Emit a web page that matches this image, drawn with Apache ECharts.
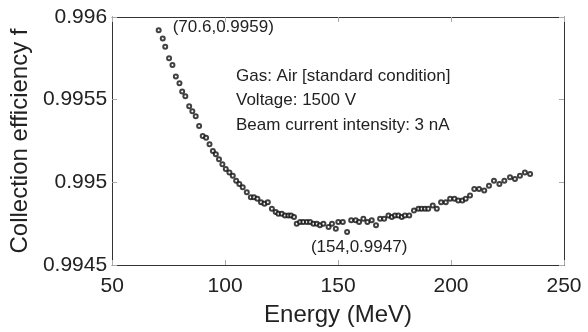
<!DOCTYPE html>
<html>
<head>
<meta charset="utf-8">
<script src="https://cdn.jsdelivr.net/npm/echarts@6/dist/echarts.min.js"></script>
<style>
html,body{margin:0;padding:0;background:#fff;}
#chart{width:588px;height:332px;}
</style>
</head>
<body>
<div id="chart"></div>
<script>
const energy = [70.6,72.4,73.5,75.2,76.7,78.2,79.8,81.0,82.4,84.1,85.5,87.0,88.5,90.1,91.6,93.1,94.6,95.9,97.3,98.8,100.3,101.9,103.4,104.9,106.3,107.8,109.6,111.4,112.8,114.3,115.9,117.4,118.9,120.7,122.4,123.6,125.1,126.5,128.0,129.2,130.5,131.7,133.2,134.6,136.2,137.6,139.1,140.6,142.0,143.5,145.8,147.3,149.0,150.1,152.1,154.0,155.8,157.8,159.3,161.2,163.0,164.9,166.8,168.6,170.4,172.3,173.8,175.2,176.7,178.2,179.6,181.5,183.6,185.6,187.0,188.5,189.9,191.9,193.7,195.6,197.7,199.6,201.5,203.2,205.0,206.5,208.4,210.3,212.4,214.7,216.8,219.0,221.4,223.6,226.1,228.3,230.5,232.7,235.0];
const efficiency = [0.99592,0.99587,0.99582,0.99575,0.99571,0.99564,0.99560,0.99555,0.99552,0.99546,0.99543,0.99540,0.99534,0.99528,0.99527,0.99523,0.99519,0.99517,0.99514,0.99511,0.99508,0.99506,0.99504,0.99501,0.99499,0.99497,0.99494,0.99491,0.99491,0.99490,0.99488,0.99487,0.99488,0.99484,0.99482,0.99481,0.99481,0.99480,0.99480,0.99480,0.99479,0.99475,0.99476,0.99476,0.99476,0.99476,0.99475,0.99475,0.99474,0.99475,0.99473,0.99475,0.99472,0.99476,0.99476,0.99470,0.99477,0.99477,0.99476,0.99478,0.99476,0.99477,0.99474,0.99478,0.99478,0.99480,0.99479,0.99480,0.99480,0.99479,0.99480,0.99480,0.99483,0.99484,0.99484,0.99484,0.99484,0.99486,0.99484,0.99488,0.99488,0.99490,0.99490,0.99489,0.99489,0.99490,0.99492,0.99496,0.99496,0.99495,0.99498,0.99501,0.99499,0.99501,0.99503,0.99502,0.99504,0.99506,0.99505];
const xTicks = {min: 50, max: 250, interval: 50};
const yTicks = {min: 0.9945, max: 0.996, interval: 0.0005};
const annotations = [
  {point: [70.6, 0.9959], text: '(70.6,0.9959)'},
  {point: [154, 0.9947], text: '(154,0.9947)'}
];
const infoLines = ['Gas: Air [standard condition]', 'Voltage: 1500 V', 'Beam current intensity: 3 nA'];
const xName = 'Energy (MeV)';
const yName = 'Collection efficiency f';

const FONT = 'Liberation Sans, Arial, sans-serif';
const chart = echarts.init(document.getElementById('chart'));
const axisLineStyle = {show: true, lineStyle: {color: '#333', width: 1}};
const tickStyle = {show: true, inside: true, length: 5, lineStyle: {color: '#aaa'}};
const fmtY = v => parseFloat(v.toFixed(4)).toString();

chart.setOption({
  animation: false,
  backgroundColor: '#fff',
  grid: {left: 112, right: 24, top: 17, bottom: 62},
  xAxis: [
    {type: 'value', min: xTicks.min, max: xTicks.max, interval: xTicks.interval,
     name: xName, nameLocation: 'middle', nameGap: 38,
     nameTextStyle: {fontFamily: FONT, fontSize: 24, color: '#222'},
     axisLine: axisLineStyle, axisTick: tickStyle, splitLine: {show: false},
     axisLabel: {fontFamily: FONT, fontSize: 21, color: '#222', margin: 11}},
    {type: 'value', position: 'top', min: xTicks.min, max: xTicks.max, interval: xTicks.interval,
     axisLine: axisLineStyle, axisTick: tickStyle, splitLine: {show: false}, axisLabel: {show: false}}
  ],
  yAxis: [
    {type: 'value', min: yTicks.min, max: yTicks.max, interval: yTicks.interval,
     name: yName, nameLocation: 'middle', nameGap: 71, nameRotate: 90,
     nameTextStyle: {fontFamily: FONT, fontSize: 24, color: '#222'},
     axisLine: axisLineStyle, axisTick: tickStyle, splitLine: {show: false},
     axisLabel: {fontFamily: FONT, fontSize: 21, color: '#222', margin: 5, formatter: fmtY}},
    {type: 'value', position: 'right', min: yTicks.min, max: yTicks.max, interval: yTicks.interval,
     axisLine: axisLineStyle, axisTick: tickStyle, splitLine: {show: false}, axisLabel: {show: false}}
  ],
  graphic: [{
    type: 'text', left: 236, top: 64,
    style: {text: infoLines.join('\n'), font: '17px ' + FONT, lineHeight: 24.5, fill: '#222'}
  }],
  series: [{
    type: 'scatter',
    data: energy.map((e, i) => [e, efficiency[i]]),
    symbol: 'emptyCircle',
    symbolSize: 4,
    itemStyle: {color: '#111', borderColor: '#111', borderWidth: 1.2},
    markPoint: {
      symbol: 'circle', symbolSize: 0,
      data: [
        {coord: annotations[0].point, label: {show: true, formatter: annotations[0].text, position: 'right', distance: 14, offset: [0, -6], fontFamily: FONT, fontSize: 17, color: '#222'}},
        {coord: annotations[1].point, label: {show: true, formatter: annotations[1].text, position: 'bottom', distance: 7, offset: [12, 0], fontFamily: FONT, fontSize: 17, color: '#222'}}
      ]
    }
  }]
});
</script>
</body>
</html>
